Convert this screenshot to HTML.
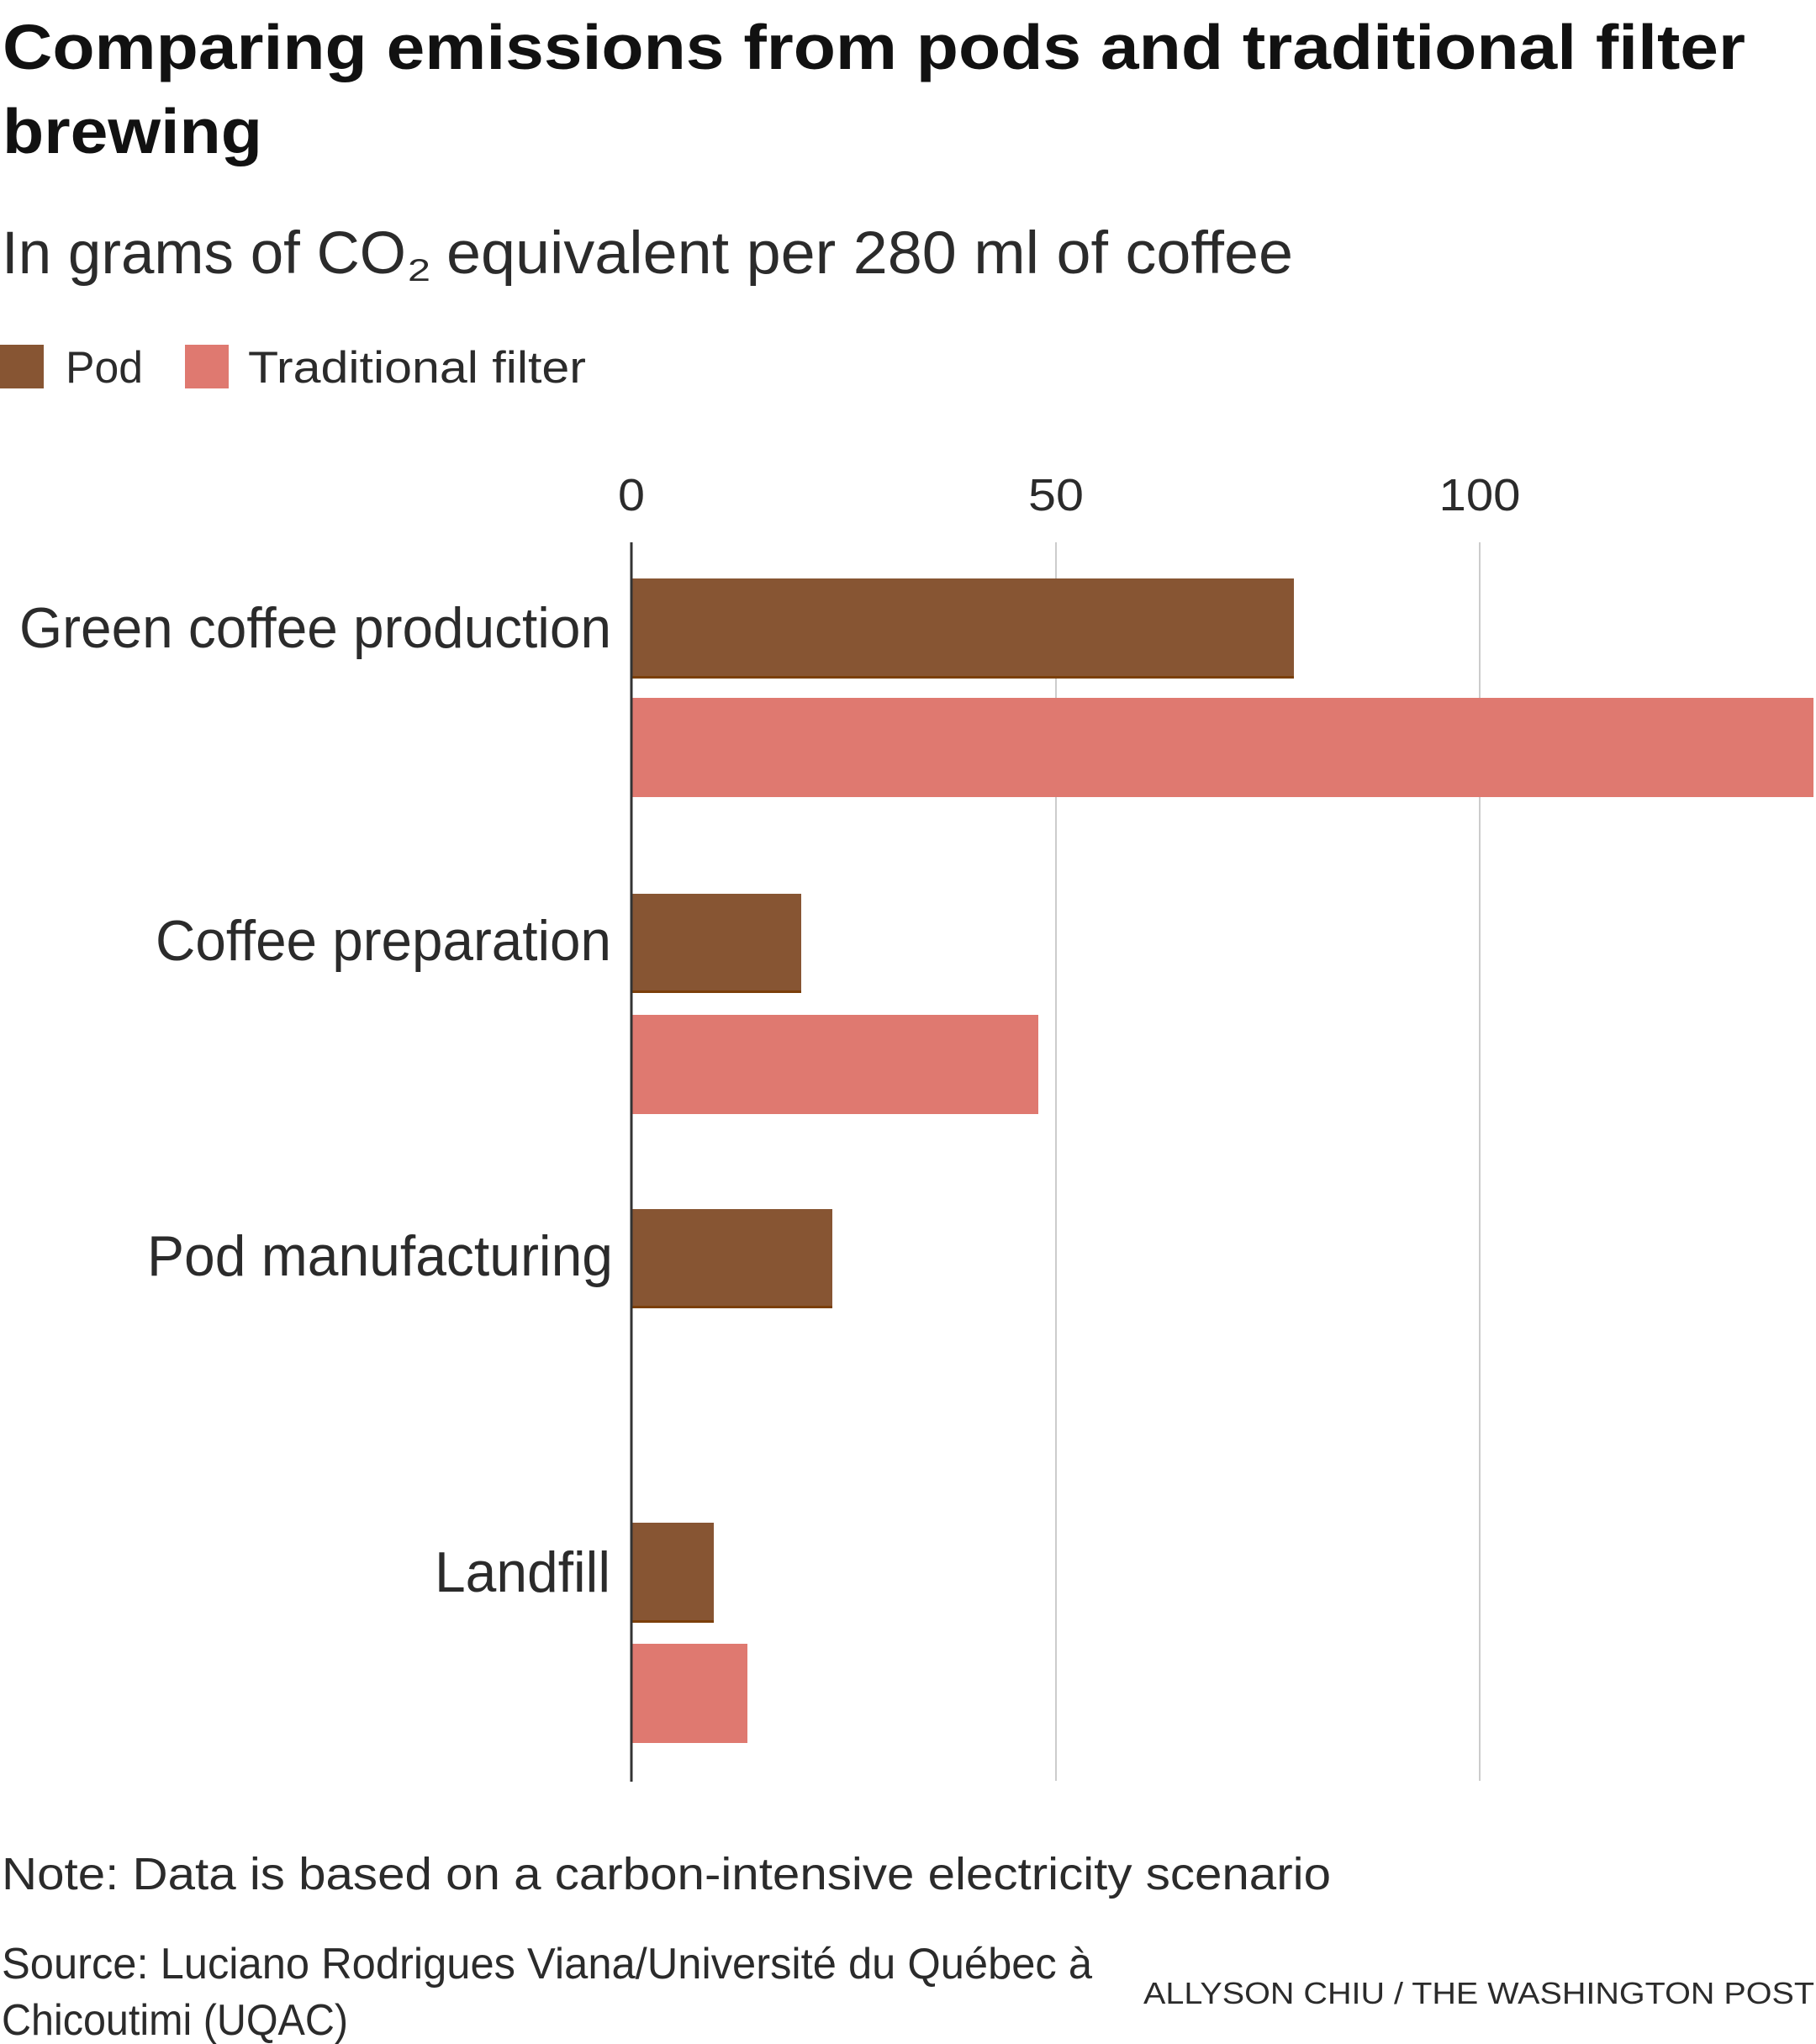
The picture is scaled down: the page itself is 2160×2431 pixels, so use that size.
<!DOCTYPE html>
<html>
<head>
<meta charset="utf-8">
<style>
  html, body { margin: 0; padding: 0; background: #ffffff; }
  body { width: 2160px; height: 2431px; overflow: hidden; }
  svg { display: block; }
  text { font-family: "Liberation Sans", sans-serif; }
</style>
</head>
<body>
<svg width="2160" height="2431" viewBox="0 0 2160 2431" xmlns="http://www.w3.org/2000/svg">
  <rect x="0" y="0" width="2160" height="2431" fill="#ffffff"/>

  <!-- Title -->
  <text x="3" y="82" font-size="75" font-weight="bold" fill="#111111" textLength="2073" lengthAdjust="spacingAndGlyphs">Comparing emissions from pods and traditional filter</text>
  <text x="3" y="182" font-size="75" font-weight="bold" fill="#111111" textLength="309" lengthAdjust="spacingAndGlyphs">brewing</text>

  <!-- Subtitle -->
  <text x="2" y="325" font-size="71" fill="#2b2b2b" textLength="481" lengthAdjust="spacingAndGlyphs">In grams of CO</text>
  <text x="485" y="334" font-size="37" fill="#2b2b2b" textLength="27" lengthAdjust="spacingAndGlyphs">2</text>
  <text x="531" y="325" font-size="71" fill="#2b2b2b" textLength="1007" lengthAdjust="spacingAndGlyphs">equivalent per 280 ml of coffee</text>

  <!-- Legend -->
  <rect x="0" y="410" width="52" height="52" fill="#875533"/>
  <text x="78" y="455" font-size="53" fill="#2b2b2b" textLength="92" lengthAdjust="spacingAndGlyphs">Pod</text>
  <rect x="220" y="410" width="52" height="52" fill="#df7970"/>
  <text x="295" y="455" font-size="53" fill="#2b2b2b" textLength="402" lengthAdjust="spacingAndGlyphs">Traditional filter</text>

  <!-- Axis tick labels -->
  <text x="751" y="607" font-size="54" fill="#2b2b2b" text-anchor="middle" textLength="32" lengthAdjust="spacingAndGlyphs">0</text>
  <text x="1256" y="607" font-size="54" fill="#2b2b2b" text-anchor="middle" textLength="66" lengthAdjust="spacingAndGlyphs">50</text>
  <text x="1760" y="607" font-size="54" fill="#2b2b2b" text-anchor="middle" textLength="97" lengthAdjust="spacingAndGlyphs">100</text>

  <!-- Gridlines -->
  <line x1="1256" y1="645" x2="1256" y2="2118" stroke="#cccccc" stroke-width="2"/>
  <line x1="1760" y1="645" x2="1760" y2="2118" stroke="#cccccc" stroke-width="2"/>

  <!-- Bars: Green coffee production -->
  <rect x="751" y="688" width="788" height="119" fill="#875533"/>
  <rect x="751" y="804" width="788" height="3" fill="#7b3f0a"/>
  <rect x="751" y="830" width="1406" height="118" fill="#df7970"/>

  <!-- Bars: Coffee preparation -->
  <rect x="751" y="1063" width="202" height="118" fill="#875533"/>
  <rect x="751" y="1178" width="202" height="3" fill="#7b3f0a"/>
  <rect x="751" y="1207" width="484" height="118" fill="#df7970"/>

  <!-- Bars: Pod manufacturing -->
  <rect x="751" y="1438" width="239" height="118" fill="#875533"/>
  <rect x="751" y="1553" width="239" height="3" fill="#7b3f0a"/>

  <!-- Bars: Landfill -->
  <rect x="751" y="1811" width="98" height="119" fill="#875533"/>
  <rect x="751" y="1927" width="98" height="3" fill="#7b3f0a"/>
  <rect x="751" y="1955" width="138" height="118" fill="#df7970"/>

  <!-- Zero axis line -->
  <line x1="751" y1="645" x2="751" y2="2119" stroke="#333333" stroke-width="3"/>

  <!-- Category labels -->
  <text x="727" y="770" font-size="68" fill="#2b2b2b" text-anchor="end" textLength="704" lengthAdjust="spacingAndGlyphs">Green coffee production</text>
  <text x="727" y="1142" font-size="68" fill="#2b2b2b" text-anchor="end" textLength="542" lengthAdjust="spacingAndGlyphs">Coffee preparation</text>
  <text x="729" y="1517" font-size="68" fill="#2b2b2b" text-anchor="end" textLength="554" lengthAdjust="spacingAndGlyphs">Pod manufacturing</text>
  <text x="726" y="1893" font-size="68" fill="#2b2b2b" text-anchor="end" textLength="209" lengthAdjust="spacingAndGlyphs">Landfill</text>

  <!-- Note & source -->
  <text x="2" y="2247" font-size="54" fill="#2b2b2b" textLength="1581" lengthAdjust="spacingAndGlyphs">Note: Data is based on a carbon-intensive electricity scenario</text>
  <text x="2" y="2353" font-size="52" fill="#2b2b2b" textLength="1297" lengthAdjust="spacingAndGlyphs">Source: Luciano Rodrigues Viana/Université du Québec à</text>
  <text x="2" y="2420" font-size="52" fill="#2b2b2b" textLength="412" lengthAdjust="spacingAndGlyphs">Chicoutimi (UQAC)</text>

  <!-- Credit -->
  <text x="1360" y="2383" font-size="36" fill="#2b2b2b" textLength="798" lengthAdjust="spacingAndGlyphs">ALLYSON CHIU / THE WASHINGTON POST</text>
</svg>
</body>
</html>
